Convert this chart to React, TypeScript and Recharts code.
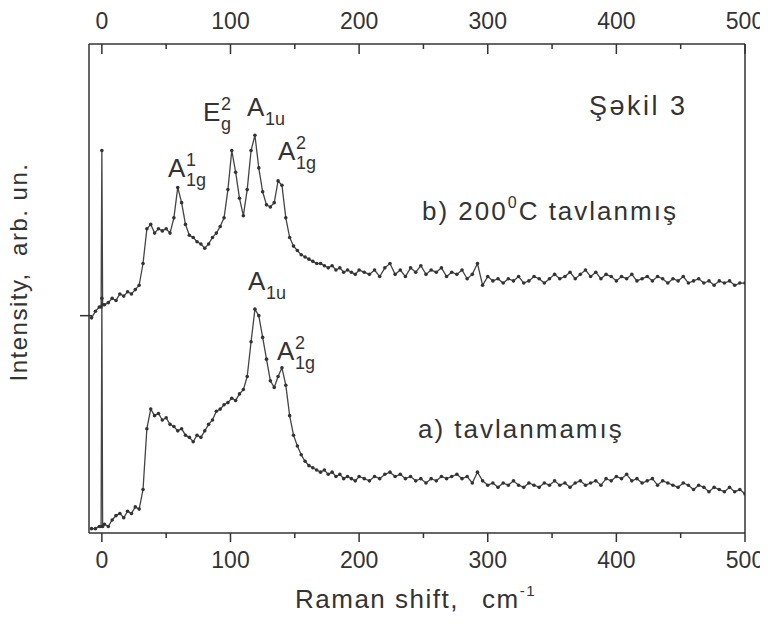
import React from "react";
import { LineChart, Line, XAxis, YAxis } from "recharts";

// Raman shift, cm-1 (shared by both spectra)
const ramanShift = [
  -8, -5, -2, -0.6, 0, 0.6, 2, 5,
  8, 11, 14, 17, 20, 23, 26, 29, 32, 35,
  38, 41, 44, 47, 50, 53, 56, 59, 62, 65,
  68, 71, 74, 77, 80, 83, 86, 89, 92, 95,
  98, 101, 104, 107, 110, 113, 116, 119, 122, 125,
  128, 131, 134, 137, 140, 143, 146, 149, 152, 155,
  158, 161, 164, 167, 170, 173, 176, 179, 182, 185,
  188, 191, 194, 197, 200,
  204, 208, 212, 216, 220, 224, 228, 232, 236, 240,
  244, 248, 252, 256, 260, 264, 268, 272, 276, 280,
  284, 288, 292, 296, 300, 304, 308, 312, 316, 320,
  324, 328, 332, 336, 340, 344, 348, 352, 356, 360,
  364, 368, 372, 376, 380, 384, 388, 392, 396, 400,
  404, 408, 412, 416, 420, 424, 428, 432, 436, 440,
  444, 448, 452, 456, 460, 464, 468, 472, 476, 480,
  484, 488, 492, 496, 500,
];

// a) tavlanmamis
const intensityA = [
  0.02, 0.02, 0.03, 0.03, 1.08, 0.03, 0.04, 0.03,
  0.06, 0.08, 0.09, 0.07, 0.10, 0.09, 0.12, 0.11, 0.20, 0.48,
  0.57, 0.54, 0.55, 0.52, 0.53, 0.50, 0.49, 0.47, 0.48, 0.45,
  0.44, 0.42, 0.45, 0.44, 0.47, 0.50, 0.52, 0.56, 0.57, 0.59,
  0.60, 0.62, 0.61, 0.64, 0.66, 0.72, 0.88, 1.03, 1.00, 0.90,
  0.80, 0.70, 0.67, 0.72, 0.76, 0.68, 0.54, 0.45, 0.40, 0.36,
  0.33, 0.31, 0.30, 0.29, 0.28, 0.29, 0.27, 0.28, 0.26, 0.27,
  0.25, 0.26, 0.25, 0.24, 0.26,
  0.25, 0.24, 0.26, 0.25, 0.27, 0.28, 0.26, 0.27, 0.25, 0.26,
  0.24, 0.25, 0.23, 0.25, 0.24, 0.26, 0.25, 0.26, 0.27, 0.25,
  0.26, 0.23, 0.28, 0.24, 0.22, 0.23, 0.21, 0.23, 0.22, 0.24,
  0.22, 0.21, 0.23, 0.22, 0.21, 0.23, 0.22, 0.24, 0.22, 0.23,
  0.21, 0.23, 0.24, 0.22, 0.23, 0.24, 0.22, 0.25, 0.24, 0.26,
  0.25, 0.27, 0.24, 0.25, 0.23, 0.24, 0.25, 0.22, 0.24, 0.23,
  0.22, 0.21, 0.23, 0.22, 0.20, 0.22, 0.21, 0.19, 0.21, 0.20,
  0.19, 0.21, 0.19, 0.20, 0.18,
];

// b) 200 C tavlanmis
const intensityB = [
  0.99, 1.02, 1.04, 1.04, 1.76, 1.05, 1.05, 1.06,
  1.08, 1.07, 1.10, 1.09, 1.11, 1.10, 1.12, 1.14, 1.24, 1.40,
  1.42, 1.38, 1.40, 1.39, 1.40, 1.38, 1.45, 1.59, 1.52, 1.42,
  1.37, 1.36, 1.34, 1.33, 1.31, 1.33, 1.36, 1.38, 1.41, 1.45,
  1.58, 1.76, 1.66, 1.54, 1.46, 1.58, 1.76, 1.83, 1.68, 1.57,
  1.51, 1.50, 1.52, 1.62, 1.60, 1.45, 1.36, 1.32, 1.30, 1.28,
  1.27, 1.26, 1.25, 1.24, 1.24, 1.23, 1.22, 1.23, 1.21, 1.22,
  1.20, 1.21, 1.20, 1.19, 1.21,
  1.20, 1.19, 1.21, 1.18, 1.22, 1.24, 1.19, 1.21, 1.18, 1.22,
  1.20, 1.23, 1.19, 1.21, 1.20, 1.22, 1.18, 1.20, 1.19, 1.21,
  1.17, 1.19, 1.24, 1.14, 1.18, 1.16, 1.17, 1.15, 1.17, 1.16,
  1.18, 1.15, 1.16, 1.18, 1.17, 1.15, 1.17, 1.19, 1.17, 1.18,
  1.20, 1.17, 1.19, 1.21, 1.18, 1.20, 1.17, 1.19, 1.18, 1.16,
  1.18, 1.17, 1.19, 1.16, 1.17, 1.18, 1.16, 1.18, 1.17, 1.15,
  1.17, 1.16, 1.18, 1.15, 1.16, 1.17, 1.15, 1.16, 1.14, 1.16,
  1.15, 1.16, 1.14, 1.15, 1.15,
];

const xTicks = [0, 50, 100, 150, 200, 250, 300, 350, 400, 450, 500];
const yTicks = [1];

const INK = "#333";
const FONT = "'Liberation Sans', Arial, sans-serif";

const data = ramanShift.map((x, i) => ({ x, a: intensityA[i], b: intensityB[i] }));

function BottomTick(props: any) {
  const { x, y, payload } = props;
  const major = payload.value % 100 === 0;
  return (
    <g>
      <line x1={x} x2={x} y1={y} y2={y + (major ? 9 : 5)} stroke={INK} strokeWidth={1.5} />
      {major && (
        <text x={x} y={y + 35} textAnchor="middle" fontSize={23} fontFamily={FONT} fill={INK}>
          {payload.value}
        </text>
      )}
    </g>
  );
}

function TopTick(props: any) {
  const { x, y, payload } = props;
  const major = payload.value % 100 === 0;
  return (
    <g>
      <line x1={x} x2={x} y1={y} y2={y + (major ? 10 : 5)} stroke={INK} strokeWidth={1.5} />
      {major && (
        <text x={x} y={y - 15} textAnchor="middle" fontSize={23} fontFamily={FONT} fill={INK}>
          {payload.value}
        </text>
      )}
    </g>
  );
}

function LeftTick(props: any) {
  const { x, y } = props;
  return <line x1={x - 9} x2={x + 3} y1={y} y2={y} stroke={INK} strokeWidth={1.5} />;
}

function RightTick(props: any) {
  const { x, y } = props;
  return <line x1={x - 10} x2={x} y1={y} y2={y} stroke={INK} strokeWidth={1.5} />;
}

function Peak({ x, y, base, sub, sup }: { x: number; y: number; base: string; sub: string; sup?: string }) {
  return (
    <g fontFamily={FONT} fill={INK}>
      <text x={x} y={y} fontSize={26}>{base}</text>
      {sup && <text x={x + 18} y={y - 11} fontSize={18}>{sup}</text>}
      <text x={x + 18} y={y + 9} fontSize={18}>{sub}</text>
    </g>
  );
}

export default function App() {
  return (
    <div style={{ position: "relative", width: 760, height: 610, background: "#fff" }}>
      <LineChart width={760} height={610} data={data} margin={{ top: 35, right: 22, bottom: 84, left: 80 }}>
        <XAxis xAxisId="bottom" type="number" dataKey="x" domain={[-10, 500]} ticks={xTicks} interval={0}
          allowDataOverflow height={1} tickSize={0} tickMargin={0} tickLine={false}
          axisLine={{ stroke: INK, strokeWidth: 1.5 }} tick={(p: any) => <BottomTick {...p} />} />
        <XAxis xAxisId="top" orientation="top" type="number" dataKey="x" domain={[-10, 500]} ticks={xTicks}
          interval={0} allowDataOverflow height={1} tickSize={0} tickMargin={0} tickLine={false}
          axisLine={{ stroke: INK, strokeWidth: 1.5 }} tick={(p: any) => <TopTick {...p} />} />
        <YAxis yAxisId="left" type="number" domain={[0, 2.25]} ticks={yTicks} width={1} tickSize={0}
          tickMargin={0} tickLine={false} axisLine={{ stroke: INK, strokeWidth: 1.5 }}
          tick={(p: any) => <LeftTick {...p} />} />
        <YAxis yAxisId="right" orientation="right" type="number" domain={[0, 2.25]} ticks={yTicks} width={1}
          tickSize={0} tickMargin={0} tickLine={false} axisLine={{ stroke: INK, strokeWidth: 1.5 }}
          tick={(p: any) => <RightTick {...p} />} />
        <Line xAxisId="bottom" yAxisId="left" type="linear" dataKey="a" stroke="#444" strokeWidth={1.3}
          dot={{ r: 1.8, fill: "#333", stroke: "none" }} isAnimationActive={false} />
        <Line xAxisId="bottom" yAxisId="left" type="linear" dataKey="b" stroke="#444" strokeWidth={1.3}
          dot={{ r: 1.8, fill: "#333", stroke: "none" }} isAnimationActive={false} />
      </LineChart>

      <svg width={760} height={610} style={{ position: "absolute", left: 0, top: 0, pointerEvents: "none", overflow: "visible" }}>
        <g fontFamily={FONT} fill={INK}>
          <text x={19} y={264} fontSize={24} textAnchor="middle" transform="rotate(-90 19 264)" letterSpacing={1.5}
            style={{ whiteSpace: "pre" }}>
            {"Intensity,  arb. un."}
          </text>
          <text x={287} y={600} fontSize={26} letterSpacing={1.5}>Raman shift,</text>
          <text x={474} y={600} fontSize={26} letterSpacing={1.5}>
            cm<tspan fontSize={15} dy={-12}>-1</tspan>
          </text>
          <text x={581} y={107} fontSize={27} letterSpacing={2.5}>Şəkil 3</text>
          <text x={414} y={212} fontSize={26} letterSpacing={2}>
            b) 200<tspan fontSize={16} dy={-12}>0</tspan><tspan dy={12}>C tavlanmış</tspan>
          </text>
          <text x={410} y={430} fontSize={26} letterSpacing={2}>a) tavlanmamış</text>
        </g>
        <Peak x={160} y={169} base="A" sup="1" sub="1g" />
        <Peak x={195} y={113} base="E" sup="2" sub="g" />
        <Peak x={239} y={108} base="A" sub="1u" />
        <Peak x={270} y={152} base="A" sup="2" sub="1g" />
        <Peak x={240} y={282} base="A" sub="1u" />
        <Peak x={269} y={352} base="A" sup="2" sub="1g" />
      </svg>
    </div>
  );
}
